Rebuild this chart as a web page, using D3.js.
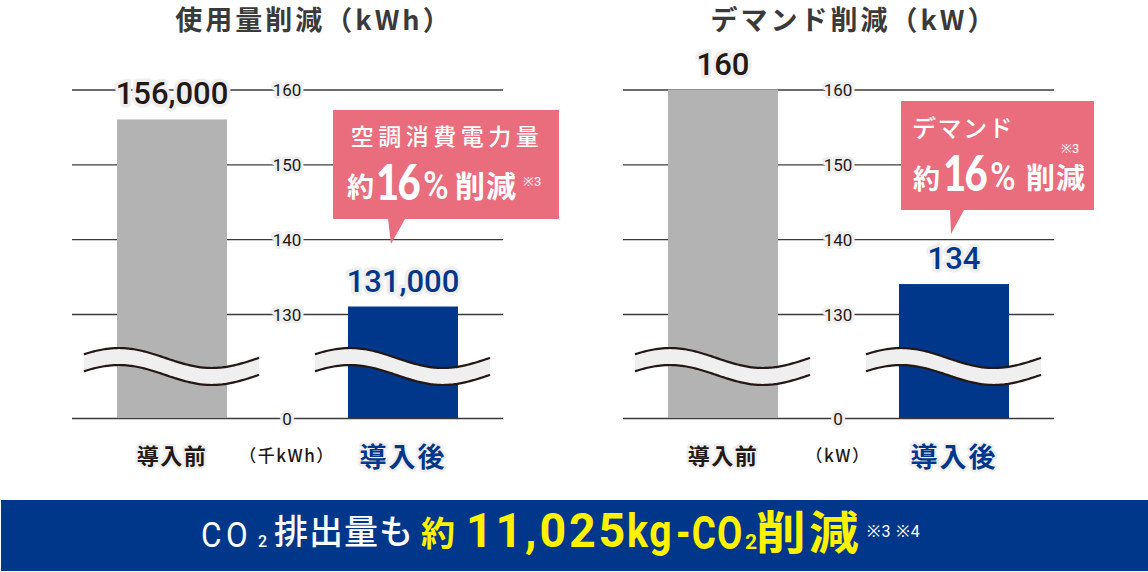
<!DOCTYPE html>
<html><head><meta charset="utf-8">
<script src="https://cdn.jsdelivr.net/npm/d3@7"></script>
<style>body{margin:0;background:#fff;overflow:hidden}</style>
</head><body><svg id="c" width="1148" height="572"></svg>
<script>
// ---- data ----
const categories = ["導入前", "導入後"];
const usageValues = [156, 131];          // 千kWh
const usageLabels = ["156,000", "131,000"];
const demandValues = [160, 134];         // kW
const demandLabels = ["160", "134"];
const tickValues = [0, 130, 140, 150, 160];
const titles = ["使用量削減（kWh）", "デマンド削減（kW）"];
const units = ["（千kWh）", "（kW）"];
const calloutHead = ["空調消費電力量", "デマンド"];
const calloutPct = ["16", "16"];
const bannerParts = ["CO", "2", "排出量も", "約", "11,025", "kg", "-CO", "2", "削減", "※3 ※4"];

// ---- style ----
const NAVY = "#00378a", GRAY = "#b3b3b3", PINK = "#ea6d7e", DARK = "#231815", HALO = "#efefef";
const JP = "'Noto Sans CJK JP', sans-serif", NUM = "Roboto, 'Noto Sans', sans-serif";

const svg = d3.select("#c");

function seg(g, t, x, y, o) {
  return g.append("text").text(t)
    .attr("transform", `translate(${x},${y}) scale(${o.sx || 1},1)`)
    .attr("font-family", o.ff || JP).attr("font-size", o.fs).attr("font-weight", o.fw || 400)
    .attr("fill", o.fill || "#fff").attr("letter-spacing", o.ls || 0)
    .attr("text-anchor", o.anchor || "start");
}

function drawChart(ox, values, labels, title, unit, titleX) {
  const g = svg.append("g").attr("transform", `translate(${ox},0)`);
  const x0 = 72, x1 = 503, axisX = 287;
  const y = d3.scaleLinear().domain([0, 130, 160]).range([418, 314, 89.5]);
  const xb = d3.scaleBand().domain(categories).range([x0, x1]).paddingInner(1 - 110 / 231).paddingOuter(45 / 231);

  // title
  g.append("text").text(title).attr("x", titleX).attr("y", 30).attr("text-anchor", "middle")
    .attr("font-family", JP).attr("font-weight", 700).attr("font-size", 27).attr("letter-spacing", 3)
    .attr("fill", "#3a3a3a");

  // grid / axis
  const ax = g.append("g").attr("transform", `translate(${x1},0)`)
    .call(d3.axisLeft(y).tickValues(tickValues).tickSize(x1 - x0).tickFormat(d3.format("d")));
  ax.select(".domain").remove();
  ax.selectAll(".tick line").attr("stroke", "#3e3a39").attr("stroke-width", 1.3);
  ax.selectAll(".tick text").attr("x", -(x1 - axisX)).attr("dy", "0.36em").attr("text-anchor", "middle")
    .attr("font-family", NUM).attr("font-size", 17).attr("fill", DARK)
    .attr("stroke", HALO).attr("stroke-width", 6).attr("stroke-linejoin", "round")
    .style("paint-order", "stroke");

  // bars
  g.selectAll("rect.bar").data(values).join("rect").attr("class", "bar")
    .attr("x", (d, i) => xb(categories[i])).attr("y", d => y(d))
    .attr("width", xb.bandwidth()).attr("height", d => y(0) - y(d))
    .attr("fill", (d, i) => i === 0 ? GRAY : NAVY);

  // break waves
  categories.forEach(c => {
    const wx = xb(c) - 33, w = 175, period = 186, amp = 10, mid = 358, th = 17;
    const pts = d3.range(0, w + 0.5, 2.5).map(t => [wx + t, mid - amp * Math.cos(2 * Math.PI * (t - 35) / period)]);
    const line = d3.line().curve(d3.curveBasis);
    const low = pts.map(p => [p[0], p[1] + th]);
    g.append("path").attr("d", line(pts) + "L" + line(low.slice().reverse()).slice(1) + "Z")
      .attr("fill", HALO);
    g.append("path").attr("d", line(pts)).attr("fill", "none").attr("stroke", DARK).attr("stroke-width", 2.2);
    g.append("path").attr("d", line(low)).attr("fill", "none").attr("stroke", DARK).attr("stroke-width", 2.2);
  });

  // value labels
  g.selectAll("text.val").data(values).join("text").attr("class", "val")
    .attr("x", (d, i) => xb(categories[i]) + xb.bandwidth() / 2).attr("y", d => y(d) - 15)
    .attr("text-anchor", "middle").attr("font-family", NUM).attr("font-size", 31).attr("font-weight", 500)
    .attr("fill", (d, i) => i === 0 ? DARK : NAVY)
    .attr("stroke", HALO).attr("stroke-width", 7).attr("stroke-linejoin", "round").style("paint-order", "stroke")
    .text((d, i) => labels[i]);

  // category labels
  g.selectAll("text.cat").data(categories).join("text").attr("class", "cat")
    .attr("x", c => xb(c) + xb.bandwidth() / 2).attr("y", (c, i) => i === 0 ? 464 : 467)
    .attr("text-anchor", "middle").attr("font-family", JP).attr("font-weight", 700)
    .attr("font-size", (c, i) => i === 0 ? 22 : 27).attr("letter-spacing", (c, i) => i === 0 ? 1.5 : 2)
    .attr("fill", (c, i) => i === 0 ? DARK : NAVY)
    .attr("stroke", HALO).attr("stroke-width", 5).attr("stroke-linejoin", "round").style("paint-order", "stroke")
    .text(c => c);

  g.append("text").text(unit).attr("x", axisX).attr("y", 462).attr("text-anchor", "middle")
    .attr("font-family", JP).attr("font-size", 17).attr("font-weight", 500).attr("letter-spacing", 1.5)
    .attr("fill", DARK);
  return { g, xb, y };
}

drawChart(0, usageValues, usageLabels, titles[0], units[0], 314);
drawChart(551, demandValues, demandLabels, titles[1], units[1], 303);

// callouts
function callout(l, t, r, b, pl, pr, tx, ty) {
  svg.append("path").attr("d", `M${l},${t}H${r}V${b}H${pr}L${tx},${ty}L${pl},${b}H${l}Z`).attr("fill", PINK);
}
callout(333, 110, 559, 219, 388, 405, 391, 244);
callout(901, 101, 1094, 210, 950, 964, 951, 234);

const s = svg.append("g");
const BIG = "Lato, Roboto, sans-serif";
// left callout text
seg(s, calloutHead[0], 447, 145, { fs: 23, fw: 500, ls: 4.5, anchor: "middle" });
seg(s, "約", 347, 197, { fs: 27, fw: 700 });
seg(s, calloutPct[0], 376, 200, { fs: 50, fw: 900, ff: BIG, ls: -2, sx: 0.8 });
seg(s, "%", 423, 199, { fs: 38, fw: 500, ff: NUM, sx: 0.92 });
seg(s, "削減", 455, 197, { fs: 30, fw: 700, ls: 1 });
seg(s, "※3", 523, 186, { fs: 13, fw: 400, ff: NUM });
// right callout text
seg(s, calloutHead[1], 912, 137, { fs: 24, fw: 500, ls: 1.5 });
seg(s, "約", 913, 189, { fs: 27, fw: 700 });
seg(s, calloutPct[1], 943, 191, { fs: 50, fw: 900, ff: BIG, ls: -2, sx: 0.8 });
seg(s, "%", 990, 190, { fs: 38, fw: 500, ff: NUM, sx: 0.92 });
seg(s, "削減", 1026, 189, { fs: 29, fw: 700, ls: 1 });
seg(s, "※3", 1061, 153, { fs: 13, fw: 400, ff: NUM });

// banner
svg.append("rect").attr("x", 1).attr("y", 500).attr("width", 1147).attr("height", 71).attr("fill", NAVY);
const bn = svg.append("g");
const Y = "#fff100";
seg(bn, bannerParts[0], 201, 547, { fs: 35, fw: 400, ff: NUM, ls: 5, sx: 0.9 });
seg(bn, bannerParts[1], 258, 547, { fs: 16, fw: 500, ff: NUM });
seg(bn, bannerParts[2], 274, 544, { fs: 34, fw: 500, ls: 1 });
seg(bn, bannerParts[3], 421, 546, { fs: 34, fw: 700, fill: Y });
seg(bn, bannerParts[4], 466, 547, { fs: 49, fw: 700, ff: NUM, ls: 3, sx: 0.95, fill: Y });
seg(bn, bannerParts[5], 627, 547, { fs: 46, fw: 700, ff: NUM, ls: 2, sx: 0.85, fill: Y });
seg(bn, bannerParts[6], 676, 549, { fs: 46, fw: 700, ff: NUM, ls: 1.5, sx: 0.8, fill: Y });
seg(bn, bannerParts[7], 745, 549, { fs: 21, fw: 700, ff: NUM, fill: Y });
seg(bn, bannerParts[8], 756, 549, { fs: 46, fw: 700, ls: 3, sx: 1.08, fill: Y });
seg(bn, bannerParts[9], 867, 537, { fs: 16, fw: 400, ff: NUM, ls: 1 });
</script></body></html>
